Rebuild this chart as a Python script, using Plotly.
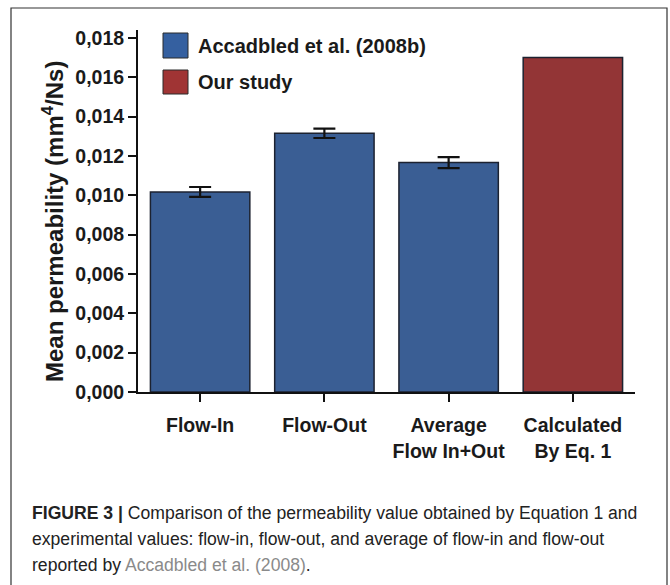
import plotly.graph_objects as go

# ---- data ----
categories = ["Flow-In", "Flow-Out", "Average<br>Flow In+Out", "Calculated<br>By Eq. 1"]
acc_categories = categories[:3]
acc_values = [0.01017, 0.01315, 0.01166]
acc_errors = [0.00025, 0.00024, 0.00028]
our_categories = categories[3:]
our_values = [0.0170]
series_names = ["Accadbled et al. (2008b)", "Our study"]
ytick_vals = [0.000, 0.002, 0.004, 0.006, 0.008, 0.010, 0.012, 0.014, 0.016, 0.018]
ytick_text = [f"{v:.3f}".replace(".", ",") for v in ytick_vals]
y_title = "Mean permeability (mm<sup>4</sup>/Ns)"

BLUE = "#3a5e94"
RED = "#933536"
OUTLINE = "#1c2230"
FONT = "Liberation Sans, Arial, sans-serif"

fig = go.Figure()
fig.add_trace(go.Bar(
    x=acc_categories, y=acc_values, name=series_names[0],
    marker=dict(color=BLUE, line=dict(color=OUTLINE, width=1.5)),
    error_y=dict(type="data", array=acc_errors, color="#111111", thickness=2.2, width=11),
    showlegend=False,
))
fig.add_trace(go.Bar(
    x=our_categories, y=our_values, name=series_names[1],
    marker=dict(color=RED, line=dict(color=OUTLINE, width=1.5)),
    showlegend=False,
))

# plot-area geometry helpers (pixels -> paper)
L, R, T, B = 138, 635, 30, 392
W, H = R - L, B - T
def px(x):
    return (x - L) / W
def py(y):
    return (B - y) / H

shapes = []
annotations = []
# manual legend
legend_items = [(series_names[0], "#3560a0", 33, 58), (series_names[1], "#a03434", 70, 94)]
for name, col, y0, y1 in legend_items:
    shapes.append(dict(type="rect", xref="paper", yref="paper",
                       x0=px(163), x1=px(188), y0=py(y1), y1=py(y0),
                       fillcolor=col, line=dict(color="#2a2a2a", width=1)))
    annotations.append(dict(xref="paper", yref="paper", x=px(196), y=py((y0 + y1) / 2),
                            xanchor="left", yanchor="middle", showarrow=False,
                            text=f"<b>{name}</b>", font=dict(family=FONT, size=20, color="#1a1a1a")))

# y-axis title
annotations.append(dict(xref="paper", yref="paper", x=px(53), y=py(222),
                        xanchor="center", yanchor="middle", showarrow=False, textangle=-90,
                        text=f"<b>{y_title}</b>", font=dict(family=FONT, size=24, color="#1a1a1a")))

# figure frame
shapes.append(dict(type="rect", xref="paper", yref="paper",
                   x0=px(11), x1=px(667), y0=py(600), y1=py(8),
                   line=dict(color="#333333", width=1.2), fillcolor="rgba(0,0,0,0)", layer="below"))

# caption
cap_font = dict(family="Liberation Sans, Arial, sans-serif", size=17.6, color="#222222")
cap_lines = [
    "<b>FIGURE 3 |</b> Comparison of the permeability value obtained by Equation 1 and",
    "experimental values: flow-in, flow-out, and average of flow-in and flow-out",
    "reported by <span style='color:#8a8a8a'>Accadbled et al. (2008)</span>.",
]
for i, line in enumerate(cap_lines):
    annotations.append(dict(xref="paper", yref="paper", x=px(30), y=py(513 + 26 * i),
                            xanchor="left", yanchor="middle", showarrow=False,
                            text=line, font=cap_font))

fig.update_layout(
    width=670, height=585,
    margin=dict(l=L, r=670 - R, t=T, b=585 - B, autoexpand=False),
    paper_bgcolor="white", plot_bgcolor="white",
    bargap=0.2,
    font=dict(family=FONT, color="#1a1a1a"),
    shapes=shapes, annotations=annotations,
    xaxis=dict(
        range=[-0.5, 3.5], showline=True, linecolor="#111111", linewidth=2,
        ticks="outside", ticklen=8, tickwidth=2, tickcolor="#111111",
        tickfont=dict(family=FONT, size=19.5, color="#1a1a1a"),
        ticklabelstandoff=7,
        tickvals=categories, ticktext=[f"<b>{c}</b>".replace("<br>", "</b><br><b>") for c in categories],
        showgrid=False, zeroline=False, fixedrange=True,
    ),
    yaxis=dict(
        range=[0, 0.0184], showline=True, linecolor="#111111", linewidth=2,
        ticks="outside", ticklen=8, tickwidth=2, tickcolor="#111111",
        tickvals=ytick_vals, ticktext=[f"<b>{t}</b>" for t in ytick_text],
        tickfont=dict(family=FONT, size=19.5, color="#1a1a1a"),
        showgrid=False, zeroline=False,
    ),
)

fig.write_html("out.html")
